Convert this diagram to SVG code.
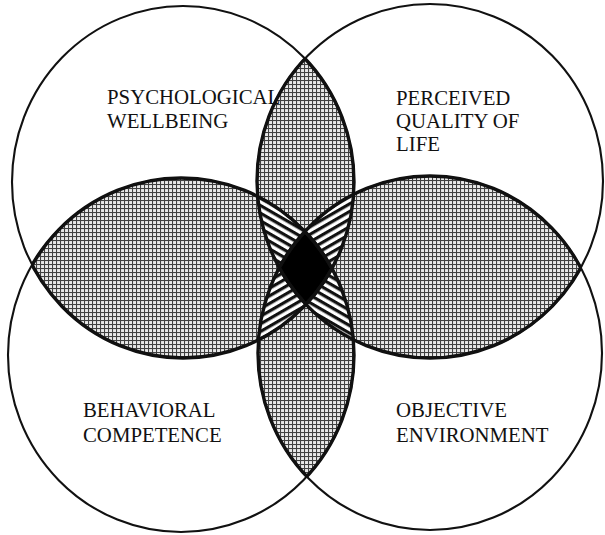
<svg xmlns="http://www.w3.org/2000/svg" xmlns:xlink="http://www.w3.org/1999/xlink" width="605" height="535" viewBox="0 0 605 535">
  <style>
    .outline { fill: none; stroke: #111; stroke-width: 2.1; }
    .edge { fill: none; stroke: #111; stroke-width: 3.4; }
    .label { font-family: "Liberation Serif", "Times New Roman", serif; font-size: 20.8px; fill: #111; }
  </style>
  <defs>
    <!-- the four domains -->
    <ellipse id="e-tl" cx="183" cy="182" rx="171" ry="176"/>
    <ellipse id="e-tr" cx="430" cy="181" rx="173" ry="177"/>
    <ellipse id="e-bl" cx="181" cy="355" rx="173" ry="177"/>
    <ellipse id="e-br" cx="430" cy="353" rx="172" ry="177"/>

    <clipPath id="clip-tl"><use xlink:href="#e-tl"/></clipPath>
    <clipPath id="clip-tr"><use xlink:href="#e-tr"/></clipPath>
    <clipPath id="clip-bl"><use xlink:href="#e-bl"/></clipPath>
    <clipPath id="clip-br"><use xlink:href="#e-br"/></clipPath>

    <!-- fine screen for two-way overlaps -->
    <pattern id="screen" width="4" height="4" patternUnits="userSpaceOnUse">
      <rect width="4" height="4" fill="#e8e8e8"/>
      <rect x="0" y="0" width="4" height="1.05" fill="#404040"/>
      <rect x="0" y="0" width="1.05" height="4" fill="#404040"/>
    </pattern>

    <!-- line shading for three-way overlaps -->
    <pattern id="lines-down" width="12" height="6.6" patternUnits="userSpaceOnUse" patternTransform="rotate(30)">
      <rect width="12" height="6.6" fill="#fff"/>
      <rect width="12" height="3.2" fill="#111"/>
    </pattern>
    <pattern id="lines-up" width="12" height="6.6" patternUnits="userSpaceOnUse" patternTransform="rotate(-30)">
      <rect width="12" height="6.6" fill="#fff"/>
      <rect width="12" height="3.2" fill="#111"/>
    </pattern>
  </defs>

  <rect width="605" height="535" fill="#fff"/>

  <g id="overlaps">
    <!-- two-way overlaps: top, left, right, bottom lenses -->
    <g clip-path="url(#clip-tl)">
      <use xlink:href="#e-tr" fill="url(#screen)"/>
      <use xlink:href="#e-bl" fill="url(#screen)"/>
    </g>
    <g clip-path="url(#clip-br)">
      <use xlink:href="#e-tr" fill="url(#screen)"/>
      <use xlink:href="#e-bl" fill="url(#screen)"/>
    </g>

    <!-- three-way overlaps -->
    <g clip-path="url(#clip-tl)"><g clip-path="url(#clip-tr)">
      <use xlink:href="#e-bl" fill="url(#lines-down)"/>
    </g></g>
    <g clip-path="url(#clip-tl)"><g clip-path="url(#clip-tr)">
      <use xlink:href="#e-br" fill="url(#lines-up)"/>
    </g></g>
    <g clip-path="url(#clip-bl)"><g clip-path="url(#clip-br)">
      <use xlink:href="#e-tl" fill="url(#lines-up)"/>
    </g></g>
    <g clip-path="url(#clip-bl)"><g clip-path="url(#clip-br)">
      <use xlink:href="#e-tr" fill="url(#lines-down)"/>
    </g></g>

    <!-- four-way overlap -->
    <g clip-path="url(#clip-tl)"><g clip-path="url(#clip-tr)"><g clip-path="url(#clip-bl)">
      <use xlink:href="#e-br" fill="#000"/>
    </g></g></g>

    <!-- heavier edges where a boundary runs inside a neighbouring domain -->
    <g clip-path="url(#clip-tr)"><use xlink:href="#e-tl" class="edge"/><use xlink:href="#e-br" class="edge"/></g>
    <g clip-path="url(#clip-bl)"><use xlink:href="#e-tl" class="edge"/><use xlink:href="#e-br" class="edge"/></g>
    <g clip-path="url(#clip-tl)"><use xlink:href="#e-tr" class="edge"/><use xlink:href="#e-bl" class="edge"/></g>
    <g clip-path="url(#clip-br)"><use xlink:href="#e-tr" class="edge"/><use xlink:href="#e-bl" class="edge"/></g>
  </g>

  <g id="psychological-wellbeing">
    <use xlink:href="#e-tl" class="outline"/>
    <text class="label" x="107" y="104">PSYCHOLOGICAL</text>
    <text class="label" x="107" y="128">WELLBEING</text>
  </g>

  <g id="perceived-quality-of-life">
    <use xlink:href="#e-tr" class="outline"/>
    <text class="label" x="396" y="105">PERCEIVED</text>
    <text class="label" x="396" y="128">QUALITY OF</text>
    <text class="label" x="396" y="151">LIFE</text>
  </g>

  <g id="behavioral-competence">
    <use xlink:href="#e-bl" class="outline"/>
    <text class="label" x="83" y="417">BEHAVIORAL</text>
    <text class="label" x="83" y="442">COMPETENCE</text>
  </g>

  <g id="objective-environment">
    <use xlink:href="#e-br" class="outline"/>
    <text class="label" x="396" y="417">OBJECTIVE</text>
    <text class="label" x="396" y="442">ENVIRONMENT</text>
  </g>
</svg>
